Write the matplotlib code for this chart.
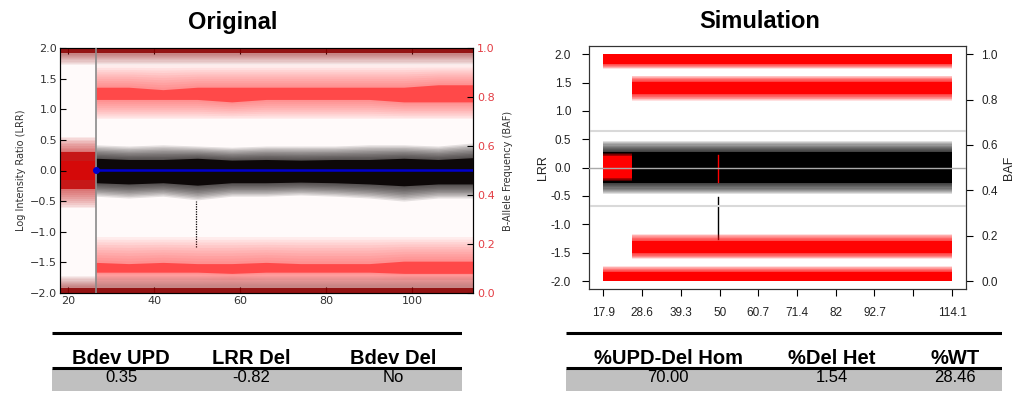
import matplotlib
matplotlib.use("Agg")
import matplotlib.pyplot as plt
import numpy as np
from matplotlib.patches import Rectangle

# ---------------- Original panel (position in Mb) ----------------
orig_span = [18.0, 114.1]
orig_break = 26.4                     # boundary of the mosaic region
orig_x = [26.4, 34, 42, 50, 58, 66, 74, 82, 90, 98, 106, 114.1]
# LRR cloud envelopes
orig_lrr_core_hi = [0.20, 0.18, 0.18, 0.20, 0.17, 0.18, 0.17, 0.18, 0.18, 0.20, 0.18, 0.21]
orig_lrr_core_lo = [-0.20, -0.22, -0.20, -0.24, -0.20, -0.20, -0.19, -0.20, -0.22, -0.25, -0.22, -0.22]
orig_lrr_out_hi = [0.42, 0.40, 0.42, 0.40, 0.38, 0.40, 0.40, 0.40, 0.42, 0.42, 0.40, 0.45]
orig_lrr_out_lo = [-0.42, -0.45, -0.42, -0.48, -0.42, -0.42, -0.40, -0.42, -0.45, -0.50, -0.45, -0.45]
# BAF clusters (BAF units)
orig_baf_up_hi = [0.84, 0.84, 0.83, 0.84, 0.84, 0.84, 0.84, 0.84, 0.84, 0.84, 0.85, 0.85]
orig_baf_up_lo = [0.79, 0.79, 0.79, 0.79, 0.78, 0.79, 0.79, 0.79, 0.79, 0.78, 0.78, 0.78]
orig_baf_up_out = [0.71, 0.93]
orig_baf_dn_hi = [0.125, 0.12, 0.125, 0.12, 0.12, 0.125, 0.12, 0.12, 0.12, 0.13, 0.13, 0.13]
orig_baf_dn_lo = [0.085, 0.085, 0.085, 0.085, 0.08, 0.085, 0.085, 0.085, 0.085, 0.08, 0.08, 0.08]
orig_baf_dn_out = [0.03, 0.23]
orig_baf_top = [0.978, 0.93]          # core lo, fringe lo (up to 1.0)
orig_baf_bot = [0.022, 0.07]          # core hi, fringe hi (down to 0.0)
orig_het_lrr = [-0.30, 0.30]
orig_het_out = [-0.62, 0.55]
orig_del = [49.6, -1.25, -0.50]       # x, LRR low, LRR high

# ---------------- Simulation panel ----------------
sim_span = [17.9, 114.1]
sim_break = 25.9
sim_ticks = [17.9, 28.6, 39.3, 50, 60.7, 71.4, 82, 92.7, 103.4, 114.1]
sim_tick_labels = ["17.9", "28.6", "39.3", "50", "60.7", "71.4", "82", "92.7", "", "114.1"]
sim_lrr_core = [-0.27, 0.27]
sim_lrr_out = [-0.47, 0.47]
sim_het_baf = [0.455, 0.55]
sim_het_out = [0.44, 0.565]
sim_baf_top = [0.958, 1.0, 0.935]     # core lo, core hi, fringe lo
sim_baf_up = [0.825, 0.878, 0.795, 0.905]
sim_baf_dn = [0.122, 0.175, 0.098, 0.208]
sim_baf_bot = [0.0, 0.04, 0.065]
sim_thresholds = [0.66, 0.33]         # BAF cut-offs
sim_del_red = [49.5, -0.25, 0.22]
sim_del_black = [49.5, -1.25, -0.52]

# ---------------- Tables ----------------
orig_headers = ["Bdev UPD", "LRR Del", "Bdev Del"]
orig_values = ["0.35", "-0.82", "No"]
sim_headers = ["%UPD-Del Hom", "%Del Het", "%WT"]
sim_values = ["70.00", "1.54", "28.46"]

W, H = 1017, 393
fig = plt.figure(figsize=(W / 100, H / 100), dpi=100)


def box(x0, y0, x1, y1):
    return [x0 / W, 1 - y1 / H, (x1 - x0) / W, (y1 - y0) / H]


def cloud(axis, x, core_lo, core_hi, out_lo, out_hi, color, core_alpha, halo_alpha,
          steps=10, z=1):
    """Dense core with a halo whose opacity fades towards the outer envelope."""
    core_lo, core_hi = np.asarray(core_lo, float), np.asarray(core_hi, float)
    out_lo, out_hi = np.asarray(out_lo, float), np.asarray(out_hi, float)
    for k in range(steps):
        f = k / steps
        lo = out_lo + (core_lo - out_lo) * f
        hi = out_hi + (core_hi - out_hi) * f
        axis.fill_between(x, lo, hi, color=color, alpha=halo_alpha, lw=0, zorder=z)
    axis.fill_between(x, core_lo, core_hi, color=color, alpha=core_alpha, lw=0, zorder=z)


def flat(v, n=2):
    return [v] * n


# ======== Original ========
ax = fig.add_axes(box(60, 48, 473, 293))
ax.set_xlim(18.07, 114.1)
ax.set_ylim(-2, 2)
axb = ax.twinx()
axb.set_ylim(0, 1)

n = len(orig_x)
cloud(ax, orig_x, orig_lrr_core_lo, orig_lrr_core_hi, orig_lrr_out_lo, orig_lrr_out_hi,
      "black", 0.9, 0.1)
hx = [orig_span[0], orig_break]
cloud(ax, hx, flat(orig_het_lrr[0]), flat(orig_het_lrr[1]), flat(orig_het_out[0]),
      flat(orig_het_out[1]), "#c00000", 0.8, 0.07)
ax.fill_between(hx, flat(orig_het_lrr[0] * 0.5), flat(orig_het_lrr[1] * 0.5),
                color="#e00000", alpha=0.6, lw=0, zorder=1)
ax.plot([orig_del[0]] * 2, orig_del[1:], color="black", lw=0.9, ls=(0, (1, 1)), zorder=3)

# BAF clusters
axb.fill_between(orig_span, 0, 1, color="#ff3030", alpha=0.025, lw=0, zorder=0)
cloud(axb, orig_x, orig_baf_up_lo, orig_baf_up_hi, flat(orig_baf_up_out[0], n),
      flat(orig_baf_up_out[1], n), "#ff1a1a", 0.6, 0.06)
cloud(axb, orig_x, orig_baf_dn_lo, orig_baf_dn_hi, flat(orig_baf_dn_out[0], n),
      flat(orig_baf_dn_out[1], n), "#ff1a1a", 0.6, 0.06)
cloud(axb, orig_span, flat(orig_baf_top[0]), flat(1.0), flat(orig_baf_top[1]), flat(1.0),
      "#8b0000", 0.85, 0.06)
cloud(axb, orig_span, flat(0.0), flat(orig_baf_bot[0]), flat(0.0), flat(orig_baf_bot[1]),
      "#8b0000", 0.85, 0.06)

axb.axvline(orig_break, color="#8a8a8a", lw=1.2, zorder=3)
axb.plot([orig_break, orig_span[1]], [0.5, 0.5], color="#0000cc", lw=1.8, zorder=4)
axb.plot([orig_break], [0.5], "o", color="#0000cc", ms=4, zorder=4)

ax.set_xticks([20, 40, 60, 80, 100])
ax.set_yticks([-2, -1.5, -1, -0.5, 0, 0.5, 1, 1.5, 2])
ax.set_yticklabels([f"{v:.1f}".replace("-", "\u2212") for v in ax.get_yticks()])
axb.set_yticks([0, 0.2, 0.4, 0.6, 0.8, 1.0])
ax.tick_params(axis="both", direction="in", length=4, labelsize=8, labelcolor="#333333",
               top=True, pad=2)
axb.tick_params(axis="y", direction="in", length=4, labelsize=8, labelcolor="#e33d44", pad=3)
ax.set_ylabel("Log Intensity Ratio (LRR)", fontsize=7, color="#333333", labelpad=3)
axb.set_ylabel("B-Allele Frequency (BAF)", fontsize=7, color="#333333", labelpad=6)
for s in ax.spines.values():
    s.set_color("#333333")
fig.text(233 / W, 1 - 22 / H, "Original", ha="center", va="center", fontsize=17,
         fontweight="bold", family="Liberation Sans")

# ======== Simulation ========
sa = fig.add_axes(box(589.3, 46, 966, 289.3))
pad = (sim_span[1] - sim_span[0]) * 0.04
sa.set_xlim(sim_span[0] - pad, sim_span[1] + pad)
sa.set_ylim(-2.146, 2.146)
sb = sa.twinx()
sb.set_ylim((-2.146 + 2) / 4, (2.146 + 2) / 4)

cloud(sa, sim_span, flat(sim_lrr_core[0]), flat(sim_lrr_core[1]),
      flat(sim_lrr_out[0]), flat(sim_lrr_out[1]), "black", 1.0, 0.12)
sa.plot([sim_del_black[0]] * 2, sim_del_black[1:], color="black", lw=1.0, zorder=3)

red = "#ff0000"
sx = [sim_span[0], sim_break]
cloud(sb, sx, flat(sim_het_baf[0]), flat(sim_het_baf[1]), flat(sim_het_out[0]),
      flat(sim_het_out[1]), red, 1.0, 0.12)
sb.plot([sim_del_red[0]] * 2, [(v + 2) / 4 for v in sim_del_red[1:]], color=red, lw=1.0, zorder=3)
cloud(sb, sim_span, flat(sim_baf_top[0]), flat(sim_baf_top[1]), flat(sim_baf_top[2]),
      flat(sim_baf_top[1]), red, 1.0, 0.12)
ux = [sim_break, sim_span[1]]
cloud(sb, ux, flat(sim_baf_up[0]), flat(sim_baf_up[1]), flat(sim_baf_up[2]),
      flat(sim_baf_up[3]), red, 0.95, 0.12)
cloud(sb, ux, flat(sim_baf_dn[0]), flat(sim_baf_dn[1]), flat(sim_baf_dn[2]),
      flat(sim_baf_dn[3]), red, 0.95, 0.12)
cloud(sb, sim_span, flat(sim_baf_bot[0]), flat(sim_baf_bot[1]), flat(sim_baf_bot[0]),
      flat(sim_baf_bot[2]), red, 1.0, 0.12)

for t in sim_thresholds:
    sb.axhline(t, color="#d9d9d9", lw=1.5, zorder=0)
sb.axhline(0.5, color="#aaaaaa", lw=1.0, zorder=5)

sa.set_xticks(sim_ticks)
sa.set_xticklabels(sim_tick_labels, family="Liberation Sans")
yt = [-2, -1.5, -1, -0.5, 0, 0.5, 1, 1.5, 2]
sa.set_yticks(yt)
sa.set_yticklabels([f"{v:.1f}" for v in yt], family="Liberation Sans")
bt = [0, 0.2, 0.4, 0.6, 0.8, 1.0]
sb.set_yticks(bt)
sb.set_yticklabels([f"{v:.1f}" for v in bt], family="Liberation Sans")
sa.tick_params(axis="both", direction="out", length=5, width=0.8, labelsize=8.5,
               labelcolor="#222222", pad=8)
sb.tick_params(axis="y", direction="out", length=5, width=0.8, labelsize=8.5,
               labelcolor="#222222", pad=6)
sa.set_ylabel("LRR", fontsize=9, family="Liberation Sans", color="#222222", labelpad=1)
sb.set_ylabel("BAF", fontsize=9, family="Liberation Sans", color="#222222", labelpad=4)
for s in list(sa.spines.values()) + list(sb.spines.values()):
    s.set_color("#333333")
    s.set_linewidth(0.8)
fig.text(760 / W, 1 - 22 / H, "Simulation", ha="center", va="center", fontsize=17,
         fontweight="bold", family="Liberation Sans")


# ======== Tables ========
def table(x0, x1, headers, values, cx):
    tab = fig.add_axes(box(x0, 330, x1, 393))
    tab.set_xlim(x0, x1)
    tab.set_ylim(393, 330)
    tab.axis("off")
    tab.add_patch(Rectangle((x0, 368.5), x1 - x0, 22, color="#c0c0c0", lw=0))
    tab.plot([x0, x1], [332.5, 332.5], color="black", lw=2.2, solid_capstyle="butt")
    tab.plot([x0, x1], [367.7, 367.7], color="black", lw=2.2, solid_capstyle="butt")
    for h, v, x in zip(headers, values, cx):
        tab.text(x, 358.5, h, ha="center", va="center", fontsize=14.5,
                 fontweight="bold", family="Liberation Sans")
        tab.text(x, 377, v, ha="center", va="center", fontsize=12, family="Liberation Sans")


table(52, 462, orig_headers, orig_values, [121, 251, 393])
table(566, 1002, sim_headers, sim_values, [668, 832, 955])

fig.savefig("out.png", dpi=100)
